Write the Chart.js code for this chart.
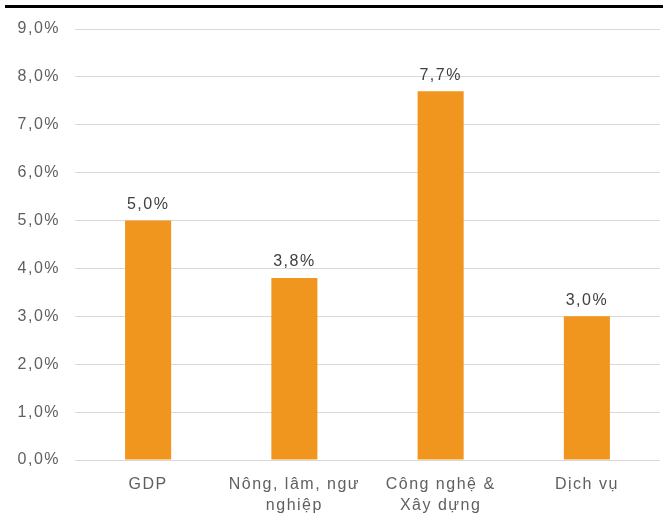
<!DOCTYPE html>
<html>
<head>
<meta charset="utf-8">
<script src="https://cdn.jsdelivr.net/npm/chart.js@4"></script>
<style>
    html, body { margin: 0; padding: 0; background: #fff; }
    #wrap { position: relative; width: 663px; height: 516px; }
    #topRule { position: absolute; left: 5px; right: 0; top: 5px; height: 3px; background: #000; }
</style>
</head>
<body>
<div id="wrap">
    <div id="topRule"></div>
    <canvas id="chart_growth" width="663" height="516"></canvas>
</div>
<script>
const categories = ["GDP", ["Nông, lâm, ngư", "nghiệp"], ["Công nghệ &", "Xây dựng"], "Dịch vụ"];
const growthValues = [5.0, 3.8, 7.7, 3.0];
const yTicks = [0, 1, 2, 3, 4, 5, 6, 7, 8, 9];

const BAR_COLOR = "#F0961E";
const TEXT_COLOR = "#606060";
const FONT = "'Liberation Sans', Arial, sans-serif";

function pct(v) {
    return v.toFixed(1).replace(".", ",") + "%";
}

// the text in this chart is a bit spaced out
const wideText = {
    id: "wideText",
    beforeInit(chart) { chart.ctx.letterSpacing = "1.5px"; },
    beforeUpdate(chart) { chart.ctx.letterSpacing = "1.5px"; },
    beforeDraw(chart) { chart.ctx.letterSpacing = "1.5px"; }
};

// value labels above each bar
const barLabels = {
    id: "barLabels",
    afterDatasetsDraw(chart) {
        const ctx = chart.ctx;
        const meta = chart.getDatasetMeta(0);
        ctx.save();
        ctx.font = "16px " + FONT;
        ctx.fillStyle = "#404040";
        ctx.textAlign = "center";
        ctx.textBaseline = "bottom";
        meta.data.forEach((bar, i) => {
            ctx.fillText(pct(growthValues[i]), bar.x, bar.y - 8);
        });
        ctx.restore();
    }
};

new Chart(document.getElementById("chart_growth"), {
    type: "bar",
    data: {
        labels: categories,
        datasets: [{
            data: growthValues,
            backgroundColor: BAR_COLOR,
            categoryPercentage: 1,
            barPercentage: 0.315
        }]
    },
    options: {
        responsive: false,
        animation: false,
        layout: { padding: { top: 29, right: 3, left: 0, bottom: 0 } },
        plugins: {
            legend: { display: false },
            tooltip: { enabled: false }
        },
        scales: {
            y: {
                min: 0,
                max: 9,
                afterBuildTicks: scale => { scale.ticks = yTicks.map(v => ({ value: v })); },
                afterFit: scale => { scale.width = 75; },
                border: { display: false },
                grid: { color: "#D9D9D9", lineWidth: 1, drawTicks: false },
                ticks: {
                    padding: 15,
                    color: TEXT_COLOR,
                    font: { family: FONT, size: 16 },
                    callback: v => pct(v)
                }
            },
            x: {
                afterFit: scale => { scale.height = 56; },
                border: { display: false },
                grid: { display: false },
                ticks: {
                    padding: 6,
                    color: TEXT_COLOR,
                    font: { family: FONT, size: 16, lineHeight: 1.3 },
                    maxRotation: 0
                }
            }
        }
    },
    plugins: [wideText, barLabels]
});
</script>
</body>
</html>
